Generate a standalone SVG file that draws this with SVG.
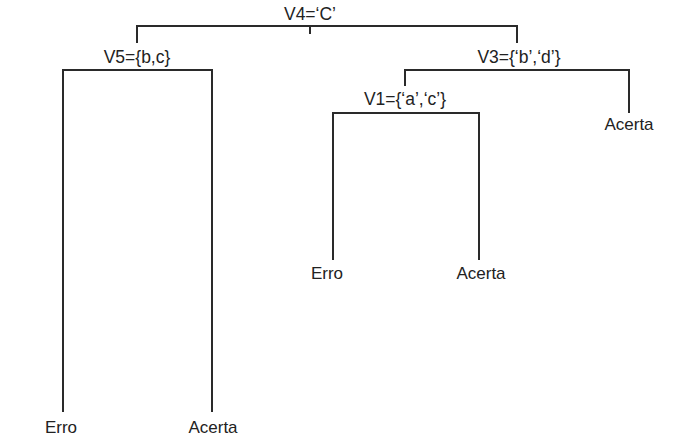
<svg xmlns="http://www.w3.org/2000/svg" width="683" height="447" viewBox="0 0 683 447">
<style>
.t{font-family:"Liberation Sans",Arial,Helvetica,sans-serif;font-size:17px;fill:#222;text-anchor:middle}
.l{font-size:17.5px}
.c{fill:none;stroke:#2a2a2a;stroke-width:2}
</style>
<rect width="683" height="447" fill="#fff"/>
<g id="connectors" class="c">
<path d="M310,26 V34"/>
<path d="M137,43 V26 H517 V43"/>
<path d="M63,412 V70 H212 V412"/>
<path d="M405,86 V70 H629 V113"/>
<path d="M333,260 V113 H479 V260"/>
</g>
<g id="n-v4"><text class="t l" x="310" y="20">V4=‘C’</text></g>
<g id="n-v5"><text class="t l" x="137" y="63">V5={b,c}</text></g>
<g id="n-v3"><text class="t l" x="519" y="63">V3={‘b’,‘d’}</text></g>
<g id="n-v1"><text class="t l" x="405" y="105">V1={‘a’,‘c’}</text></g>
<g id="n-acerta-r"><text class="t" x="629" y="130">Acerta</text></g>
<g id="n-erro-m"><text class="t" x="327" y="279">Erro</text></g>
<g id="n-acerta-m"><text class="t" x="481" y="279">Acerta</text></g>
<g id="n-erro-l"><text class="t" x="61" y="433">Erro</text></g>
<g id="n-acerta-l"><text class="t" x="213" y="433">Acerta</text></g>
</svg>
